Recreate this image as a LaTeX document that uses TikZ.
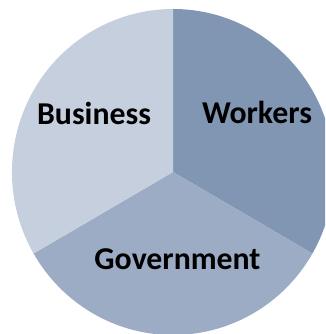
\documentclass[tikz,border=0pt]{standalone}
\usepackage{fontspec}
\setmainfont{Carlito}
\definecolor{busc}{RGB}{198,207,221}
\definecolor{work}{RGB}{128,150,178}
\definecolor{govc}{RGB}{155,172,196}
\begin{document}
\begin{tikzpicture}[x=1pt,y=1pt,
  lbl/.style={font=\fontsize{31.8}{36}\selectfont\bfseries, text=black, anchor=base, inner sep=0pt}]
\useasboundingbox (0,0) rectangle (325,334);
\clip (0,0) rectangle (325,334);
\coordinate (c) at (173,162);
\fill[work] (c) -- ++(90:161 and 163) arc[start angle=90, end angle=-30, x radius=161, y radius=163] -- cycle;
\fill[govc] (c) -- ++(-30:161 and 163) arc[start angle=-30, end angle=-150, x radius=161, y radius=163] -- cycle;
\fill[busc] (c) -- ++(210:161 and 163) arc[start angle=210, end angle=90, x radius=161, y radius=163] -- cycle;
\node[lbl] (business) at (94,209) {Business};
\node[lbl] (workers) at (257,210) {Workers};
\node[lbl] (government) at (177.5,64) {Government};
\end{tikzpicture}
\end{document}
